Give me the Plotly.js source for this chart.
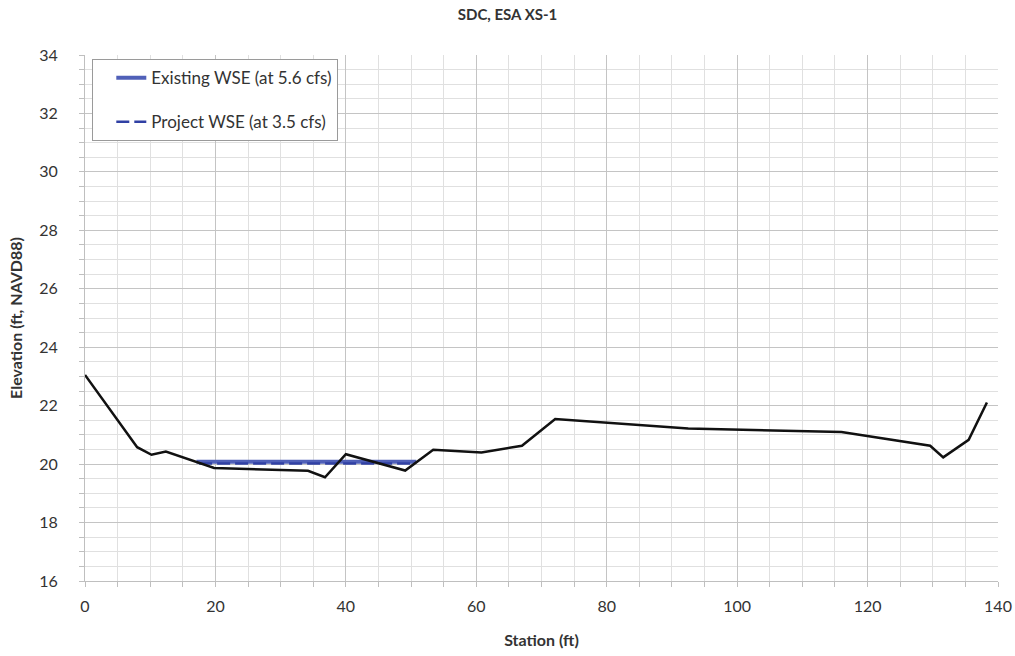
<!DOCTYPE html>
<html>
<head>
<meta charset="utf-8">
<script src="https://cdn.plot.ly/plotly-3.0.1.min.js"></script>
<style>html,body{margin:0;padding:0;background:#fff;}#chart{width:1015px;height:656px;}</style>
</head>
<body>
<div id="chart"></div>
<script>
// Ground profile
const groundStation = [0, 8.0, 10.2, 12.4, 19.8, 34.2, 36.8, 40.0, 49.1, 53.4, 60.8, 67.0, 72.1, 92.5, 116.0, 129.6, 131.6, 135.5, 138.3];
const groundElev    = [23.05, 20.58, 20.32, 20.43, 19.87, 19.77, 19.55, 20.34, 19.78, 20.49, 20.40, 20.63, 21.54, 21.22, 21.10, 20.63, 20.23, 20.83, 22.11];
// Water surface elevations
const existingStation = [17.1, 50.8];
const existingElev    = [20.08, 20.08];
const projectStation  = [17.5, 50.6];
const projectElev     = [20.02, 20.02];
const seriesNames = ["Existing WSE (at 5.6 cfs)", "Project WSE (at 3.5 cfs)"];

const font = "Lato, 'Open Sans', sans-serif";

const traces = [
  {x: existingStation, y: existingElev, mode: "lines", name: seriesNames[0],
   line: {color: "#5060b8", width: 4}, legendgroup: "a"},
  {x: projectStation, y: projectElev, mode: "lines", name: seriesNames[1],
   line: {color: "#3040a4", width: 2.5, dash: "13px,5px"}, legendgroup: "b"},
  {x: groundStation, y: groundElev, mode: "lines", name: "Ground",
   line: {color: "#111111", width: 2.5}, showlegend: false}
];

const layout = {
  width: 1015, height: 656,
  margin: {l: 85, r: 17, t: 55, b: 75},
  paper_bgcolor: "#ffffff", plot_bgcolor: "#ffffff",
  font: {family: font, color: "#333333", size: 16},
  title: {text: "<b>SDC, ESA XS-1</b>", x: 0.5, xanchor: "center", y: 0.978, yanchor: "middle",
          font: {family: font, size: 15, color: "#333333"}},
  xaxis: {
    range: [0, 140], dtick: 20, tick0: 0,
    showgrid: true, gridcolor: "#c4c4c4", gridwidth: 1,
    zeroline: false, showline: true, linecolor: "#bfbfbf",
    ticks: "outside", ticklen: 5, tickcolor: "#bfbfbf",
    minor: {dtick: 5, showgrid: true, gridcolor: "#e0e0e0", ticks: "outside", ticklen: 5, tickcolor: "#bfbfbf"},
    tickfont: {family: font, size: 16, color: "#333333"},
    ticklabelstandoff: 6,
    title: {text: "<b>Station (ft)</b>", font: {family: font, size: 16, color: "#333333"}, standoff: 20}
  },
  yaxis: {
    range: [16, 34], dtick: 2, tick0: 16,
    showgrid: true, gridcolor: "#c4c4c4", gridwidth: 1,
    zeroline: false, showline: true, linecolor: "#bfbfbf",
    ticks: "outside", ticklen: 5, tickcolor: "#bfbfbf",
    minor: {dtick: 0.5, showgrid: true, gridcolor: "#e0e0e0", ticks: "outside", ticklen: 5, tickcolor: "#bfbfbf"},
    tickfont: {family: font, size: 16, color: "#333333"},
    ticklabelstandoff: 18,
    title: {text: "<b>Elevation (ft, NAVD88)</b>", font: {family: font, size: 16, color: "#333333"}, standoff: 12}
  },
  showlegend: true,
  legend: {
    x: 0.008, y: 0.992, xanchor: "left", yanchor: "top",
    bgcolor: "#ffffff", bordercolor: "#9a9a9a", borderwidth: 1,
    font: {family: font, size: 17, color: "#333333"},
    tracegroupgap: 19, traceorder: "grouped",
    indentation: 18
  }
};

Plotly.newPlot("chart", traces, layout, {displayModeBar: false, staticPlot: true});
</script>
</body>
</html>
